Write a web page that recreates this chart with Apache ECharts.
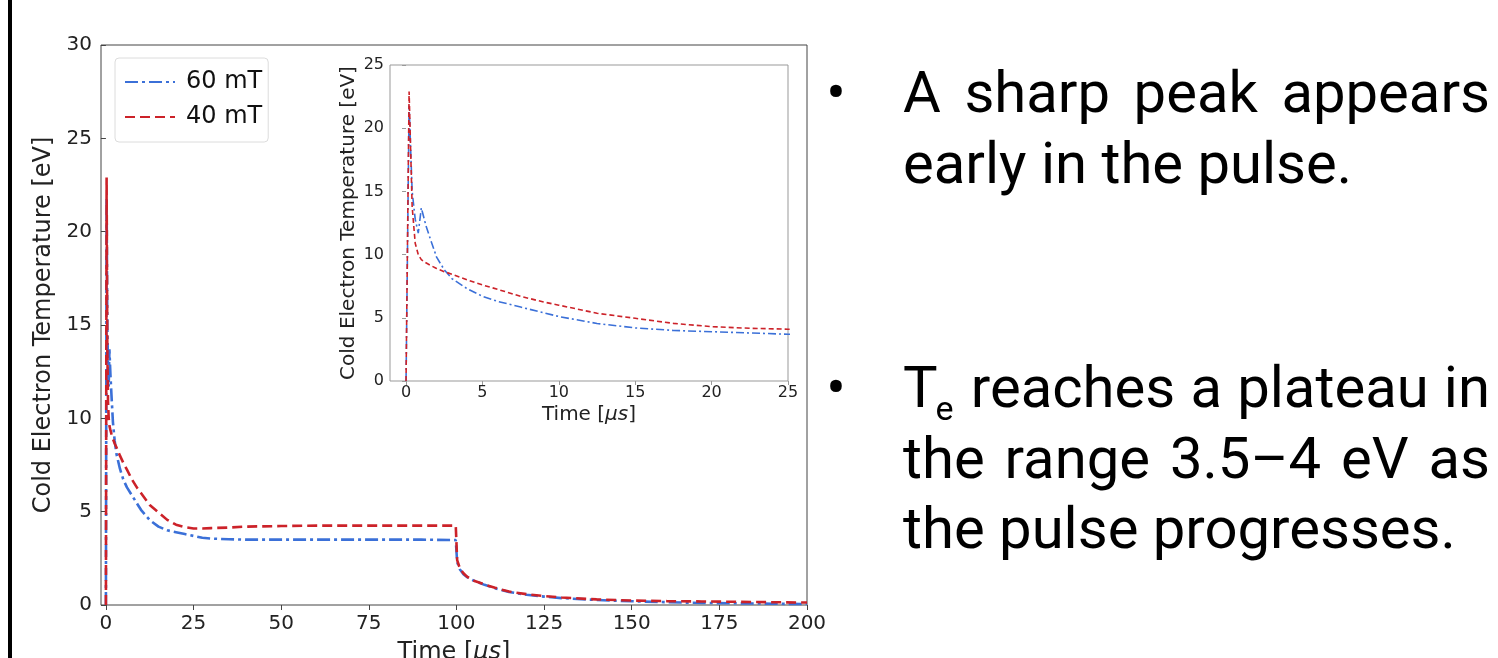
<!DOCTYPE html>
<html>
<head>
<meta charset="utf-8">
<script src="https://cdn.jsdelivr.net/npm/echarts@6/dist/echarts.min.js"></script>
<style>
html,body{margin:0;padding:0;background:#fff;}
#chart{width:1498px;height:658px;}
</style>
</head>
<body>
<div id="chart"></div>
<script>
// ---- data ----
const seriesNames = ['60 mT', '40 mT'];
const time = [0, 0.2, 0.4, 0.6, 0.8, 1.0, 1.3, 1.6, 2.0, 2.5, 3.0, 4.0, 5.0, 6.0, 7.5, 9.0, 10, 12.5, 15, 17.5, 20, 22.5, 25, 27.5, 30, 35, 40, 50, 60, 70, 80, 90, 99.8, 100.2, 101, 102, 103, 105, 108, 111, 115, 120, 125, 130, 140, 150, 160, 170, 180, 190, 200];
const temp60 = [0, 21.8, 15.0, 12.8, 11.7, 13.7, 12.3, 11.2, 9.8, 8.8, 8.1, 7.3, 6.7, 6.3, 5.85, 5.4, 5.1, 4.55, 4.2, 4.0, 3.9, 3.8, 3.7, 3.6, 3.56, 3.52, 3.5, 3.5, 3.5, 3.5, 3.5, 3.5, 3.48, 2.3, 1.9, 1.65, 1.5, 1.3, 1.08, 0.9, 0.7, 0.55, 0.45, 0.37, 0.27, 0.2, 0.15, 0.11, 0.09, 0.07, 0.05];
const temp40 = [0, 22.9, 13.8, 10.9, 10.0, 9.6, 9.35, 9.15, 8.9, 8.65, 8.45, 8.0, 7.6, 7.25, 6.7, 6.25, 6.0, 5.36, 4.96, 4.56, 4.3, 4.17, 4.1, 4.1, 4.12, 4.15, 4.2, 4.23, 4.25, 4.25, 4.25, 4.25, 4.25, 2.4, 1.95, 1.7, 1.52, 1.3, 1.1, 0.92, 0.72, 0.58, 0.48, 0.4, 0.3, 0.24, 0.21, 0.19, 0.17, 0.15, 0.13];
const mainXTicks = [0, 25, 50, 75, 100, 125, 150, 175, 200];
const insetXTicks = [0, 5, 10, 15, 20, 25];
const yLabel = 'Cold Electron Temperature [eV]';
const xLabel = 'Time [{i|μs}]';
const bullet1 = ['A sharp peak appears', 'early in the pulse.'];
const bullet2 = ['reaches a plateau in', 'the range 3.5–4 eV as', 'the pulse progresses.'];

// ---- build ----
const pairs = (ys) => time.map((t, i) => [t, ys[i]]);
const BLUE = '#3b70d8', RED = '#cc2229';
const FONT = 'DejaVu Sans';
const italicRich = (size) => ({ i: { fontStyle: 'italic', fontSize: size, fontFamily: FONT, color: '#222' } });

const TFONT = '58px Roboto';
const SUBFONT = '34px Roboto';
const TX0 = 903, TX1 = 1490;
const measureCtx = document.createElement('canvas').getContext('2d');
function textWidth(s, font) { measureCtx.font = font; return measureCtx.measureText(s).width; }
function textEl(x, y, s, font) {
  return { type: 'text', x: x, y: y, style: { text: s, font: font, fill: '#000', verticalAlign: 'middle' } };
}
function justifyLine(words, y, x0, x1, firstToken) {
  const toks = words.map(w => ({ w: textWidth(w, TFONT), make: (x) => [textEl(x, y, w, TFONT)] }));
  if (firstToken) toks.unshift(firstToken);
  const total = toks.reduce((a, t) => a + t.w, 0);
  const gap = (x1 - x0 - total) / (toks.length - 1);
  let x = x0, els = [];
  toks.forEach(t => { els = els.concat(t.make(x)); x += t.w + gap; });
  return els;
}
const teToken = (y) => {
  const wT = textWidth('T', TFONT), we = textWidth('e', SUBFONT);
  return { w: wT + we, make: (x) => [textEl(x, y, 'T', TFONT), textEl(x + wT - 2, y + 19, 'e', SUBFONT)] };
};
const graphics = [
  { type: 'rect', shape: { x: 8, y: 0, width: 4, height: 658 }, style: { fill: '#000' } },
  { type: 'text', x: 836, y: 97, style: { text: '•', font: TFONT, fill: '#000', align: 'center', verticalAlign: 'middle' } },
  { type: 'text', x: 836, y: 392, style: { text: '•', font: TFONT, fill: '#000', align: 'center', verticalAlign: 'middle' } }
].concat(
  justifyLine(bullet1[0].split(' '), 97, TX0, TX1),
  [textEl(TX0, 168, bullet1[1], TFONT)],
  justifyLine(bullet2[0].split(' '), 392, TX0, TX1, teToken(392)),
  justifyLine(bullet2[1].split(' '), 463, TX0, TX1),
  [textEl(TX0, 533, bullet2[2], TFONT)]
);

const chart = echarts.init(document.getElementById('chart'), null, { renderer: 'canvas' });
const option = {
  animation: false,
  backgroundColor: '#fff',
  grid: [
    { left: 101, top: 45, width: 706, height: 560, show: true, borderColor: '#444', borderWidth: 1, backgroundColor: 'transparent', outerBoundsMode: 'none', containLabel: false },
    { left: 390, top: 65, width: 398, height: 316, show: true, borderColor: '#999', borderWidth: 1, backgroundColor: '#fff', z: 5, outerBoundsMode: 'none', containLabel: false }
  ],
  xAxis: [
    { type: 'value', gridIndex: 0, min: -1.4, max: 200,
      axisLine: { show: false }, splitLine: { show: false },
      axisTick: { show: true, length: 5, customValues: mainXTicks, lineStyle: { color: '#444' } },
      axisLabel: { customValues: mainXTicks, fontSize: 20, fontFamily: FONT, color: '#222', margin: 9 },
      name: xLabel, nameLocation: 'middle', nameGap: 36,
      nameTextStyle: { fontSize: 24, fontFamily: FONT, color: '#222', rich: italicRich(24) } },
    { type: 'value', gridIndex: 1, min: -1.05, max: 25, z: 6,
      axisLine: { show: false }, splitLine: { show: false },
      axisTick: { show: true, length: 4, customValues: insetXTicks, lineStyle: { color: '#999' } },
      axisLabel: { customValues: insetXTicks, fontSize: 16, fontFamily: FONT, color: '#222', margin: 4 },
      name: xLabel, nameLocation: 'middle', nameGap: 24,
      nameTextStyle: { fontSize: 20, fontFamily: FONT, color: '#222', rich: italicRich(20) } }
  ],
  yAxis: [
    { type: 'value', gridIndex: 0, min: 0, max: 30, interval: 5,
      axisLine: { show: false }, splitLine: { show: false },
      axisTick: { show: true, length: 5, lineStyle: { color: '#444' } },
      axisLabel: { fontSize: 20, fontFamily: FONT, color: '#222', margin: 9 },
      name: yLabel, nameLocation: 'middle', nameGap: 45,
      nameTextStyle: { fontSize: 24, fontFamily: FONT, color: '#222' } },
    { type: 'value', gridIndex: 1, min: 0, max: 25, interval: 5, z: 6,
      axisLine: { show: false }, splitLine: { show: false },
      axisTick: { show: true, length: 4, lineStyle: { color: '#999' } },
      axisLabel: { fontSize: 16, fontFamily: FONT, color: '#222', margin: 6 },
      name: yLabel, nameLocation: 'middle', nameGap: 31,
      nameTextStyle: { fontSize: 20, fontFamily: FONT, color: '#222' } }
  ],
  legend: {
    data: seriesNames, orient: 'vertical', left: 115, top: 58,
    padding: [12, 6, 13, 9], itemGap: 11, itemWidth: 50, itemHeight: 14,
    backgroundColor: '#fff', borderColor: '#dcdcdc', borderWidth: 1, borderRadius: 4,
    itemStyle: { opacity: 0 },
    textStyle: { fontSize: 24, fontFamily: FONT, color: '#111', lineHeight: 24, padding: [0, 0, 0, 6] }
  },
  series: [
    { name: seriesNames[0], type: 'line', xAxisIndex: 0, yAxisIndex: 0, data: pairs(temp60), symbol: 'none', showSymbol: false,
      lineStyle: { color: BLUE, width: 2.6, type: [13, 4, 3, 4] }, itemStyle: { color: BLUE }, z: 3 },
    { name: seriesNames[1], type: 'line', xAxisIndex: 0, yAxisIndex: 0, data: pairs(temp40), symbol: 'none', showSymbol: false,
      lineStyle: { color: RED, width: 2.6, type: [10, 5] }, itemStyle: { color: RED }, z: 4 },
    { name: seriesNames[0], type: 'line', xAxisIndex: 1, yAxisIndex: 1, data: pairs(temp60), symbol: 'none', showSymbol: false,
      lineStyle: { color: BLUE, width: 1.6, type: [8, 3, 2, 3] }, itemStyle: { color: BLUE }, z: 7 },
    { name: seriesNames[1], type: 'line', xAxisIndex: 1, yAxisIndex: 1, data: pairs(temp40), symbol: 'none', showSymbol: false,
      lineStyle: { color: RED, width: 1.6, type: [5, 3] }, itemStyle: { color: RED }, z: 8 }
  ],
  graphic: graphics
};
chart.setOption(option);
</script>
</body>
</html>
